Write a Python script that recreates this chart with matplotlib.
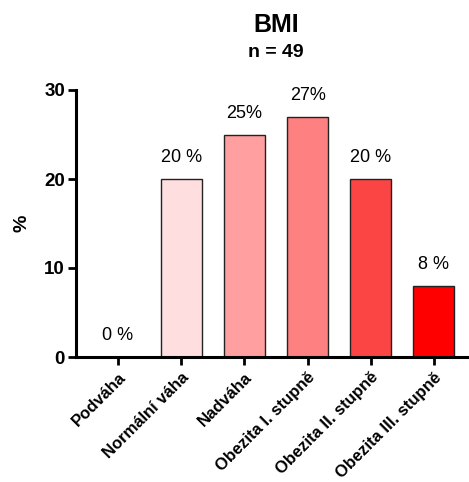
import matplotlib
matplotlib.use("Agg")
import matplotlib.pyplot as plt

plt.rcParams['font.family'] = ['Liberation Sans', 'DejaVu Sans']

categories = ["Podváha", "Normální váha", "Nadváha", "Obezita I. stupně",
              "Obezita II. stupně", "Obezita III. stupně"]
percent = [0, 20, 25, 27, 20, 8]
value_labels = ["0 %", "20 %", "25%", "27%", "20 %", "8 %"]
bar_colors = ["#FFFFFF", "#FFDEE0", "#FF9F9F", "#FF8080", "#FB4545", "#FF0000"]

fig = plt.figure(figsize=(4.69, 4.82), dpi=100)
ax = fig.add_axes([76/469, 1 - 357/482, 1 - 76/469, (357 - 90)/482])

x = list(range(len(categories)))
ax.bar(x, percent, width=0.65, color=bar_colors, edgecolor="#222222", linewidth=1.0)

# value labels above bars
for xi, v, lab in zip(x, percent, value_labels):
    ax.annotate(lab, (xi, v), xytext=(0, 9), textcoords="offset points",
                ha="center", va="bottom", fontsize=13)

ax.set_xlim(-0.665, 5.555)
ax.set_ylim(0, 30)
ax.set_yticks([0, 10, 20, 30])
ax.set_xticks(x)
ax.set_xticklabels(categories, rotation=45, ha="right", rotation_mode="anchor",
                   fontsize=12, fontweight="bold")
for t in ax.get_yticklabels():
    t.set_fontweight("bold")
    t.set_fontsize(13.5)

for side in ["top", "right"]:
    ax.spines[side].set_visible(False)
for side in ["left", "bottom"]:
    ax.spines[side].set_linewidth(2.2)
ax.tick_params(axis="both", length=6, width=2.0, pad=2)
ax.tick_params(axis="x", pad=3)

fig.text(22/469, 1 - 223/482, "%", rotation=90, ha="center", va="center",
         fontsize=14, fontweight="bold")
fig.text(276/469, 1 - 25/482, "BMI", ha="center", va="center",
         fontsize=18, fontweight="bold")
fig.text(276/469, 1 - 52/482, "n = 49", ha="center", va="center",
         fontsize=14, fontweight="bold")

fig.savefig("out.png", dpi=100)
